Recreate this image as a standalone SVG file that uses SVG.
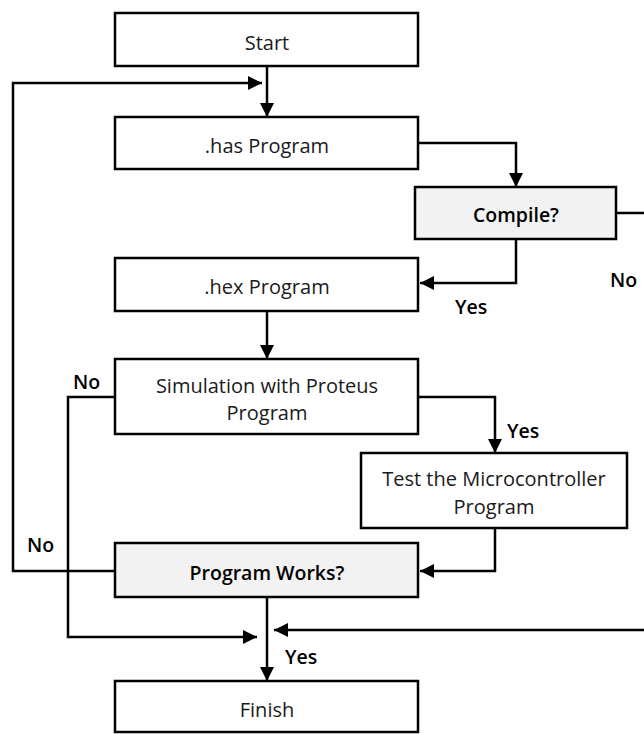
<svg xmlns="http://www.w3.org/2000/svg" width="644" height="734" viewBox="0 0 644 734">
<style>
.box{fill:#fff;stroke:#000;stroke-width:2.5}
.dec{fill:#f2f2f2;stroke:#000;stroke-width:2.5}
.t{font-family:"Open Sans","Noto Sans","DejaVu Sans",sans-serif;font-size:20px;fill:#1a1a1a;text-anchor:middle}
.b{font-family:"Open Sans","Noto Sans","DejaVu Sans",sans-serif;font-size:19.5px;font-weight:600;fill:#000}
.c{fill:none;stroke:#000;stroke-width:2.5}
</style>
<defs>
<marker id="ah" viewBox="0 0 14 14" refX="14" refY="7" markerWidth="14" markerHeight="14" markerUnits="userSpaceOnUse" orient="auto">
<path d="M0,0 L14,7 L0,14 z" fill="#000"/>
</marker>
</defs>
<g id="connectors">
<path class="c" d="M267,66 V117" marker-end="url(#ah)"/>
<path class="c" d="M115,571 H13 V83 H262" marker-end="url(#ah)"/>
<path class="c" d="M418,143 H516 V187" marker-end="url(#ah)"/>
<path class="c" d="M616,213 H644"/>
<path class="c" d="M516,239 V283 H420" marker-end="url(#ah)"/>
<path class="c" d="M267,311 V359" marker-end="url(#ah)"/>
<path class="c" d="M418,397 H495 V453" marker-end="url(#ah)"/>
<path class="c" d="M115,397 H68 V637 H257" marker-end="url(#ah)"/>
<path class="c" d="M495,528 V571 H420" marker-end="url(#ah)"/>
<path class="c" d="M267,597 V681" marker-end="url(#ah)"/>
<path class="c" d="M644,630 H274" marker-end="url(#ah)"/>
</g>
<g id="start"><rect class="box" x="115" y="13" width="303" height="53"/><text class="t" x="267" y="50">Start</text></g>
<g id="has"><rect class="box" x="115" y="117" width="303" height="52"/><text class="t" x="267" y="153">.has Program</text></g>
<g id="compile"><rect class="dec" x="415" y="187" width="201" height="52"/><text class="b" x="516" y="222" text-anchor="middle">Compile?</text></g>
<g id="hex"><rect class="box" x="115" y="258" width="303" height="53"/><text class="t" x="267" y="294">.hex Program</text></g>
<g id="sim"><rect class="box" x="115" y="359" width="303" height="75"/><text class="t" x="267" y="393">Simulation with Proteus</text><text class="t" x="267" y="420">Program</text></g>
<g id="test"><rect class="box" x="361" y="453" width="266" height="75"/><text class="t" x="494" y="486">Test the Microcontroller</text><text class="t" x="494" y="514">Program</text></g>
<g id="works"><rect class="dec" x="115" y="543" width="303" height="54"/><text class="b" x="267" y="580" text-anchor="middle">Program Works?</text></g>
<g id="finish"><rect class="box" x="115" y="681" width="303" height="51"/><text class="t" x="267" y="717">Finish</text></g>
<g id="labels">
<text class="b" x="610" y="287">No</text>
<text class="b" x="455" y="314">Yes</text>
<text class="b" x="73" y="389">No</text>
<text class="b" x="507" y="438">Yes</text>
<text class="b" x="27" y="552">No</text>
<text class="b" x="285" y="664">Yes</text>
</g>
</svg>
